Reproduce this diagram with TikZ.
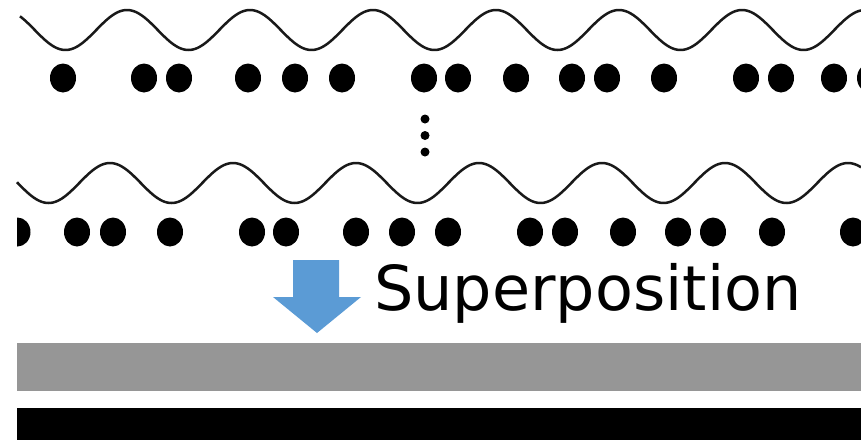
\documentclass[tikz,border=0pt]{standalone}
\usepackage{fontspec}
\newfontfamily\labelfont{DejaVu Sans}
\usetikzlibrary{shapes.geometric}
\definecolor{arrowblue}{HTML}{5B9BD5}
\definecolor{bargray}{RGB}{150,150,150}
\definecolor{waveink}{RGB}{25,25,25}
\tikzset{
  wave/.style={draw=waveink, line width=2.5pt, smooth},
  bead/.style={ellipse, fill=black, inner sep=0pt, minimum width=26pt, minimum height=29pt},
  vdot/.style={circle, fill=black, inner sep=0pt, minimum size=9pt},
}
\begin{document}
\begin{tikzpicture}[x=1pt,y=-1pt]
\useasboundingbox (0,0) rectangle (861,440);
\clip (0,0) rectangle (861,440);
% waves
\draw[wave] plot[domain=20:861, samples=400] (\x, {30 - 20*cos(2.92683*(\x-127))});
\draw[wave] plot[domain=17:861, samples=400] (\x, {183 - 20*cos(2.92683*(\x-110))});
% row 1 beads
\foreach \px [count=\i] in {63,144,179,248,295,342,424,458,516,572,607,664,746,781,834,870}
  \node[bead] (a\i) at (\px,78) {};
% vertical ellipsis
\node[vdot] (v1) at (425,119) {};
\node[vdot] (v2) at (425,135.5) {};
\node[vdot] (v3) at (425,152) {};
% row 2 beads
\begin{scope}
  \clip (17,200) rectangle (861,260);
  \foreach \px [count=\i] in {17.5,77,113,170,252,286,356,402,448,530,565,623,678,713,772,853}
    \node[bead] (b\i) at (\px,232) {};
\end{scope}
% arrow
\fill[arrowblue] (293,260) -- (339,260) -- (339,297) -- (361,297) -- (317,333) -- (273,297) -- (293,297) -- cycle;
\node[anchor=base west, inner sep=0pt, font=\labelfont\fontsize{62}{74}\selectfont] (lbl) at (374,310) {Superposition};
% bars
\fill[bargray] (17,343) rectangle (861,391);
\fill[black] (17,408) rectangle (861,440);
\end{tikzpicture}
\end{document}
